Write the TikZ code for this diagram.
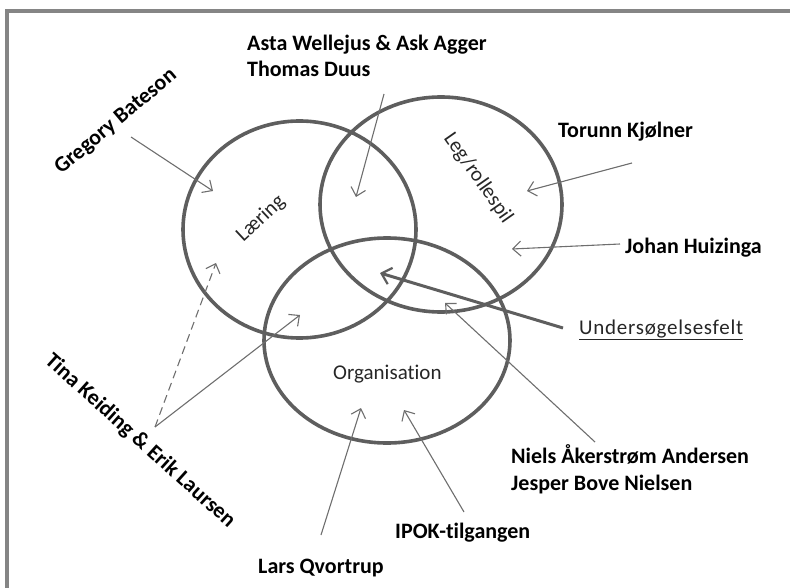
\documentclass[tikz,border=0pt]{standalone}
\usepackage{fontspec}
\setmainfont{Carlito}[Ligatures=NoCommon]
\usetikzlibrary{arrows.meta,shapes.geometric}
\definecolor{ringgray}{HTML}{5E5E5E}
\definecolor{arrowgray}{HTML}{6E6E6E}
\definecolor{framegray}{HTML}{858585}
\begin{document}
\begin{tikzpicture}[x=1pt,y=-1pt,
  field/.style={draw=ringgray, line width=3.6pt, ellipse, inner sep=0pt},
  fieldname/.style={font=\fontsize{21}{25}\selectfont, text=black!85, inner sep=0pt},
  author/.style={font=\fontsize{22}{26.5}\bfseries\selectfont, text=black, inner sep=0pt},
  pointer/.style={draw=arrowgray, line width=1.1pt,
    -{Straight Barb[length=8pt,width=15pt,line width=1.1pt]}},
  mainpointer/.style={draw=ringgray, line width=3pt,
    -{Straight Barb[length=9pt,width=17pt,line width=2.2pt]}},
  hintpointer/.style={pointer, dash pattern=on 8pt off 5pt}
]
\useasboundingbox (0,0) rectangle (790,588);
\clip (0,0) rectangle (790,588);

% outer frame (runs off the page to the right and below)
\draw[framegray, line width=4pt] (7,11) rectangle (820,620);

% the three fields
\node[field, minimum width=233pt, minimum height=217pt] (laering) at (299.5,229.5) {};
\node[field, minimum width=242pt, minimum height=215pt] (leg) at (441,204.5) {};
\node[field, minimum width=246pt, minimum height=205pt] (org) at (387,340.5) {};

% field names
\node[fieldname, rotate=43] (laeringtxt) at (261,219) {Læring};
\node[fieldname, rotate=-55] (legtxt) at (478,178) {Leg/rollespil};
\node[fieldname, anchor=base west] (orgtxt) at (333,379) {Organisation};
\node[fieldname, anchor=base west] (felt) at (579,334)
  {\addfontfeature{LetterSpace=3.5}\underline{Undersøgelsesfelt}};

% authors
\node[author, anchor=base west, align=left] (asta) at (247,77) {Asta Wellejus \& Ask Agger\\Thomas Duus};
\node[author, rotate=40] (bateson) at (116,122) {Gregory Bateson};
\node[author, anchor=base west] (torunn) at (558,138) {Torunn Kjølner};
\node[author, anchor=base west] (huizinga) at (625,254) {Johan Huizinga};
\node[author, anchor=base west, align=left] (niels) at (511,490) {Niels Åkerstrøm Andersen\\Jesper Bove Nielsen};
\node[author, anchor=base west] (ipok) at (395,538) {IPOK-tilgangen};
\node[author, anchor=base west] (lars) at (258,573) {Lars Qvortrup};
\node[author, rotate=-42] (keiding) at (140,441) {Tina Keiding \& Erik Laursen};

% arrow ends
\coordinate (batesonA) at (131,137);  \coordinate (batesonB) at (213,191);
\coordinate (astaA) at (384,94);      \coordinate (astaB) at (356,197);
\coordinate (torunnA) at (632,163);   \coordinate (torunnB) at (527,191);
\coordinate (huizingaA) at (620,244); \coordinate (huizingaB) at (512,249);
\coordinate (feltA) at (563,328);     \coordinate (feltB) at (380,273);
\coordinate (nielsA) at (595,442);    \coordinate (nielsB) at (445,303);
\coordinate (ipokA) at (464,512);     \coordinate (ipokB) at (404,410);
\coordinate (larsA) at (321,535);     \coordinate (larsB) at (361,408);
\coordinate (keidingA) at (155,427);
\coordinate (keidingB) at (300,315);
\coordinate (keidingC) at (216,263);

% arrows
\draw[pointer] (batesonA) -- (batesonB);
\draw[pointer] (astaA) -- (astaB);
\draw[pointer] (torunnA) -- (torunnB);
\draw[pointer] (huizingaA) -- (huizingaB);
\draw[mainpointer] (feltA) -- (feltB);
\draw[pointer] (nielsA) -- (nielsB);
\draw[pointer] (ipokA) -- (ipokB);
\draw[pointer] (larsA) -- (larsB);
\draw[pointer] (keidingA) -- (keidingB);
\draw[hintpointer] (keidingA) -- (keidingC);
\end{tikzpicture}
\end{document}
